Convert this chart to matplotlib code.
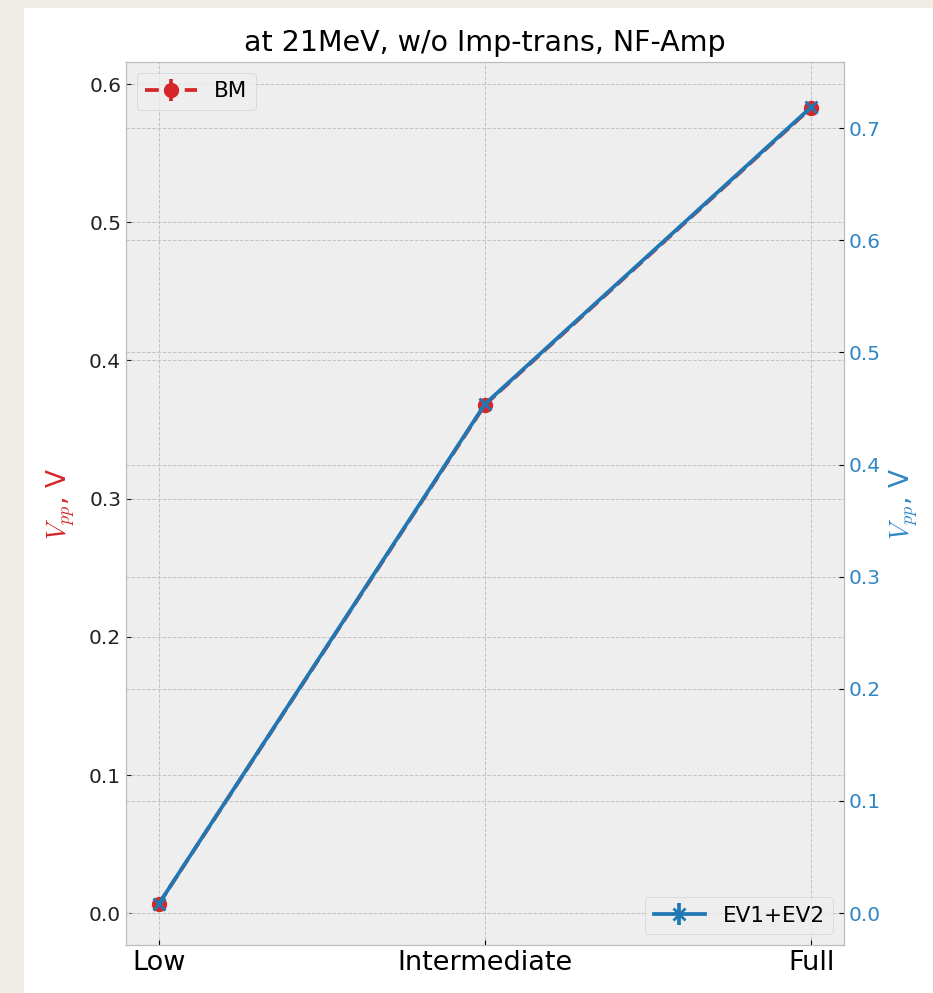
import matplotlib
matplotlib.use("Agg")
import matplotlib.pyplot as plt
from matplotlib.patches import Rectangle

# amplitude levels and measured peak-to-peak voltages
levels = ["Low", "Intermediate", "Full"]
bm_vpp = [0.0065, 0.368, 0.583]
bm_err = [0.001, 0.001, 0.001]
ev_vpp = [0.008, 0.454, 0.719]
ev_err = [0.001, 0.001, 0.001]

plt.style.use("bmh")
plt.rcParams["grid.linewidth"] = 0.7
plt.rcParams["grid.color"] = "#c2c2c2"
red, blue, blue_txt = "tab:red", "tab:blue", "#2f86c4"

fig = plt.figure(figsize=(9.33, 9.93), dpi=100, facecolor="#f0ede6")
fig.patches.append(Rectangle((24 / 933, 0), 1 - 24 / 933, 1 - 8 / 993,
                             transform=fig.transFigure, facecolor="white",
                             edgecolor="none", zorder=-10))
ax = fig.add_axes([126 / 933, 48 / 993, 718 / 933, 883 / 993])
x = range(len(levels))

ax.errorbar(x, bm_vpp, yerr=bm_err, color=red, ls="--", marker="o",
            ms=10, lw=2.7, label="BM")
ax.set_ylim(-0.023, 0.616)
ax.set_ylabel(r"$V_{pp}$, V", color=red, fontsize=19, labelpad=9)
ax.tick_params(axis="y", labelsize=14.5, colors="#222222")
ax.set_xticks(list(x))
ax.set_xticklabels(levels, fontsize=19.5)
ax.legend(loc="upper left", fontsize=15.5, handlelength=2.4)

ax2 = ax.twinx()
ax2.errorbar(x, ev_vpp, yerr=ev_err, color=blue, ls="-", marker="x",
             ms=9, mew=2, lw=2.7, label="EV1+EV2")
ax2.set_ylim(-0.0285, 0.759)
ax2.set_ylabel(r"$V_{pp}$, V", color=blue_txt, fontsize=19)
ax2.tick_params(axis="y", labelsize=14.5, labelcolor=blue_txt)
ax2.legend(loc="lower right", fontsize=15.5, handlelength=2.4)

ax.set_title("at 21MeV, w/o Imp-trans, NF-Amp", fontsize=20.5, pad=8)

fig.savefig("out.png", dpi=100, facecolor=fig.get_facecolor())
